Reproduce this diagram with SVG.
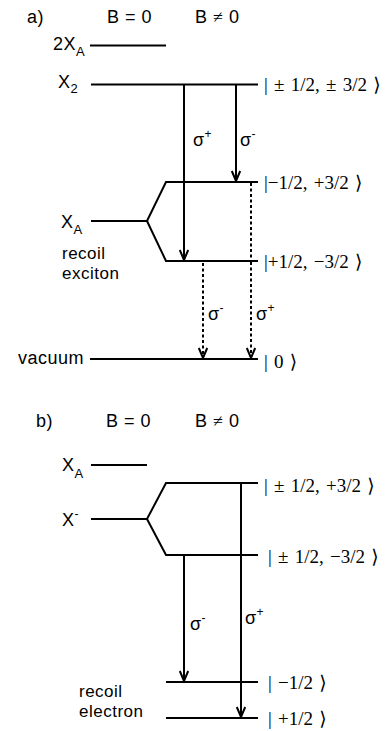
<svg xmlns="http://www.w3.org/2000/svg" width="385" height="731" viewBox="0 0 385 731">
<style>
.s{font-family:"Liberation Sans",Arial,sans-serif;font-size:18px;letter-spacing:0.5px;fill:#000}
.t{font-size:17px}
.sub{font-size:13px;letter-spacing:0}
.sup{font-size:12px;letter-spacing:0}
.k{font-family:"Liberation Serif","DejaVu Serif","Times New Roman",serif;font-size:19px;word-spacing:1.5px;fill:#000}
.ne{font-family:"Liberation Serif","Times New Roman",serif}
.lv{stroke:#000;stroke-width:2;fill:none}
.ar{stroke:#000;stroke-width:2;fill:none;marker-end:url(#ah)}
.dt{stroke:#000;stroke-width:2;fill:none;stroke-dasharray:3,2.5;marker-end:url(#ah)}
.dl{stroke:#000;stroke-width:2;fill:none;stroke-dasharray:3,2.5}
</style>
<defs>
<marker id="ah" markerWidth="12" markerHeight="12" refX="11" refY="5" orient="auto" markerUnits="userSpaceOnUse" viewBox="0 0 12 10">
<path d="M1,0.8 L11,5 L1,9.2" fill="none" stroke="#000" stroke-width="2"/>
</marker>
</defs>
<rect width="385" height="731" fill="#fff"/>
<g id="panel-a-headers">
<text class="s" x="27" y="23">a)</text>
<text class="s" x="107" y="23">B = 0</text>
<text class="s" x="195" y="23">B <tspan class="ne">≠</tspan> 0</text>
</g>
<g id="a-2XA">
<text class="s" x="53" y="50">2X<tspan class="sub" dy="6">A</tspan></text>
<line class="lv" x1="90" y1="45.5" x2="166" y2="45.5"/>
</g>
<g id="a-X2">
<text class="s" x="58" y="88">X<tspan class="sub" dy="5">2</tspan></text>
<line class="lv" x1="91" y1="84.5" x2="258" y2="84.5"/>
<text class="k" x="264" y="91">| ± 1/2, ± 3/2 ⟩</text>
</g>
<g id="a-XA">
<text class="s" x="61" y="228">X<tspan class="sub" dy="6">A</tspan></text>
<polyline class="lv" points="91,221 147,221 166,182 258,182"/>
<polyline class="lv" points="147,221 166,261 258,261"/>
<text class="k" x="264" y="189">|−1/2, +3/2 ⟩</text>
<text class="k" x="264" y="268">|+1/2, −3/2 ⟩</text>
<text class="s t" x="62" y="259">recoil</text>
<text class="s t" x="62" y="279">exciton</text>
</g>
<g id="a-vacuum">
<text class="s" x="18" y="364">vacuum</text>
<line class="lv" x1="90" y1="359" x2="258" y2="359"/>
<text class="k" x="264" y="368">| 0 ⟩</text>
</g>
<g id="a-connectors">
<line class="ar" x1="184" y1="84.5" x2="184" y2="260"/>
<line class="ar" x1="236" y1="84.5" x2="236" y2="181"/>
<line class="dl" x1="251" y1="183" x2="251" y2="262"/>
<line class="dt" x1="251" y1="262" x2="251" y2="358"/>
<line class="dt" x1="203" y1="263" x2="203" y2="358"/>
<text class="s" x="193" y="146">σ<tspan class="sup" dy="-8">+</tspan></text>
<text class="s" x="240" y="146">σ<tspan class="sup" dy="-8">-</tspan></text>
<text class="s" x="208" y="320">σ<tspan class="sup" dy="-8">-</tspan></text>
<text class="s" x="256" y="320">σ<tspan class="sup" dy="-8">+</tspan></text>
</g>
<g id="panel-b-headers">
<text class="s" x="36" y="427">b)</text>
<text class="s" x="106" y="427">B = 0</text>
<text class="s" x="195" y="427">B <tspan class="ne">≠</tspan> 0</text>
</g>
<g id="b-XA">
<text class="s" x="62" y="471">X<tspan class="sub" dy="7">A</tspan></text>
<line class="lv" x1="91" y1="465" x2="147" y2="465"/>
</g>
<g id="b-Xminus">
<text class="s" x="62" y="526">X<tspan class="sup" dy="-8">-</tspan></text>
<polyline class="lv" points="91,519 147,519 166,483 258,483"/>
<polyline class="lv" points="147,519 166,555 258,555"/>
<text class="k" x="264" y="492">| ± 1/2, +3/2 ⟩</text>
<text class="k" x="268" y="563">| ± 1/2, −3/2 ⟩</text>
</g>
<g id="b-electron">
<line class="lv" x1="166" y1="682" x2="258" y2="682"/>
<line class="lv" x1="166" y1="718" x2="258" y2="718"/>
<text class="k" x="268" y="689">| −1/2 ⟩</text>
<text class="k" x="268" y="725">| +1/2 ⟩</text>
<text class="s t" x="79" y="697">recoil</text>
<text class="s t" x="79" y="717">electron</text>
</g>
<g id="b-connectors">
<line class="ar" x1="184" y1="555" x2="184" y2="681"/>
<line class="ar" x1="241" y1="483" x2="241" y2="717"/>
<text class="s" x="190" y="630">σ<tspan class="sup" dy="-8">-</tspan></text>
<text class="s" x="245" y="624">σ<tspan class="sup" dy="-8">+</tspan></text>
</g>
</svg>
